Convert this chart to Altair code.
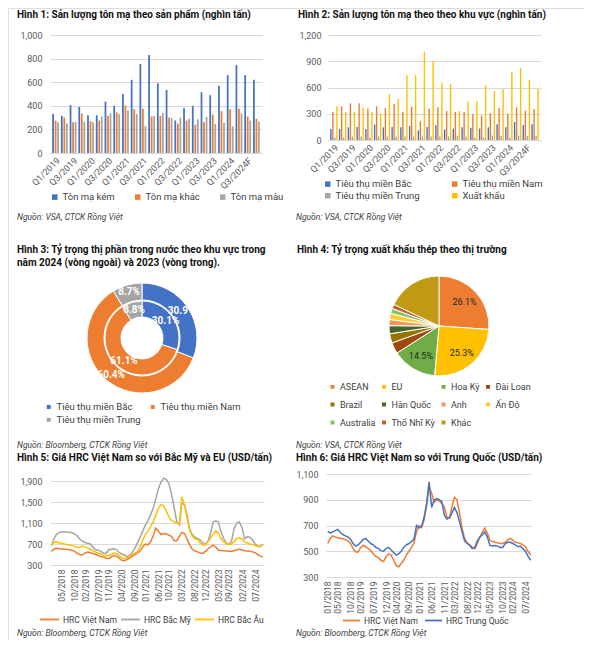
import altair as alt
import pandas as pd

FONT = "Roboto"
TXT = "#404040"
AXC = "#595959"
GRID = "#D9D9D9"
W, H = 576, 632          # single view; page offset is 8px


def P(v):
    """page pixel -> view pixel"""
    return v - 8


# ---------------- data ----------------
quarters = ["Q1/2019", "Q2/2019", "Q3/2019", "Q4/2019",
            "Q1/2020", "Q2/2020", "Q3/2020", "Q4/2020",
            "Q1/2021", "Q2/2021", "Q3/2021", "Q4/2021",
            "Q1/2022", "Q2/2022", "Q3/2022", "Q4/2022",
            "Q1/2023", "Q2/2023", "Q3/2023", "Q4/2023",
            "Q1/2024", "Q2/2024", "Q3/2024F", "Q4/2024F"]
quarter_ticks = quarters[::2]

series1 = ["Tôn mạ kém", "Tôn mạ khác", "Tôn mạ màu"]
colors1 = ["#4472C4", "#ED7D31", "#A5A5A5"]
ton_kem = [330, 315, 405, 390, 320, 320, 435, 400, 500, 620, 755, 830,
           590, 535, 275, 380, 400, 515, 490, 570, 660, 745, 660, 620]
ton_khac = [275, 300, 260, 335, 270, 275, 315, 345, 400, 370, 375, 310,
            315, 300, 250, 275, 240, 260, 325, 355, 370, 375, 310, 290]
ton_mau = [260, 250, 265, 265, 260, 310, 335, 330, 360, 330, 230, 315,
           340, 295, 300, 290, 285, 305, 245, 255, 225, 335, 275, 265]

series2 = ["Tiêu thụ miền Bắc", "Tiêu thụ miền Nam", "Tiêu thụ miền Trung", "Xuất khẩu"]
colors2 = ["#4472C4", "#ED7D31", "#A5A5A5", "#FFC000"]
mien_bac = [125, 125, 145, 150, 125, 175, 145, 150, 145, 160, 110, 150,
            170, 120, 130, 145, 140, 130, 145, 180, 145, 205, 170, 180]
mien_nam = [320, 385, 420, 420, 360, 385, 365, 410, 320, 380, 215, 360,
            375, 330, 320, 320, 300, 280, 305, 365, 300, 375, 335, 355]
mien_trung = [30, 30, 40, 40, 30, 40, 40, 40, 40, 40, 40, 40,
              40, 40, 50, 40, 30, 30, 50, 50, 30, 50, 45, 45]
xuat_khau = [385, 320, 320, 370, 320, 300, 525, 470, 740, 740, 1010, 900,
             655, 640, 330, 440, 445, 625, 560, 580, 780, 820, 685, 585]

regions3 = ["Tiêu thụ miền Bắc", "Tiêu thụ miền Nam", "Tiêu thụ miền Trung"]
colors3 = ["#4472C4", "#ED7D31", "#A5A5A5"]
share_2024 = [30.9, 60.4, 8.7]
share_2023 = [30.1, 61.1, 8.8]

markets4 = ["ASEAN", "EU", "Hoa Kỳ", "Đài Loan", "Brazil", "Hàn Quốc",
            "Anh", "Ấn Độ", "Australia", "Thổ Nhĩ Kỳ", "Khác"]
colors4 = ["#ED7D31", "#FFC000", "#70AD47", "#9E480E", "#997300", "#43682B",
           "#F1975A", "#FFCD33", "#8CC168", "#C5622A", "#C09A12"]
shares4 = [26.1, 25.3, 14.5, 3.6, 3.0, 2.6, 2.0, 2.0, 1.6, 1.4, 17.9]
labels4 = ["26.1%", "25.3%", "14.5%", "", "", "", "", "", "", "", ""]

months = list(pd.date_range("2018-01-01", periods=82, freq="MS").strftime("%Y-%m-%d"))
hrc_vn = [560, 600, 620, 610, 605, 600, 600, 590, 580, 560, 520, 495,
          495, 530, 545, 535, 520, 505, 480, 460, 450, 430, 420, 455,
          480, 470, 430, 390, 380, 405, 430, 470, 500, 530, 565, 650,
          700, 685, 740, 850, 1000, 950, 880, 900, 890, 870, 845, 765,
          760, 850, 920, 900, 800, 680, 600, 565, 550, 530, 520, 560,
          610, 650, 680, 640, 585, 575, 570, 565, 560, 560, 570, 590,
          600, 585, 570, 565, 560, 550, 535, 500, 470, 450]
hrc_us = [660, 800, 880, 920, 935, 935, 930, 925, 915, 890, 850, 790,
          750, 725, 715, 700, 640, 590, 580, 560, 530, 520, 590, 600,
          610, 590, 540, 510, 490, 460, 480, 540, 620, 720, 830, 950,
          1060, 1150, 1250, 1380, 1550, 1750, 1880, 1950, 1930, 1850, 1650, 1400,
          1130, 1060, 1480, 1450, 1250, 980, 880, 830, 800, 780, 720, 690,
          760, 920, 1120, 1140, 1120, 930, 800, 720, 690, 760, 1000, 1100,
          1120, 1000, 800, 840, 830, 780, 700, 660, 650, 690]
hrc_eu = [680, 730, 740, 720, 720, 700, 690, 680, 670, 650, 640, 640,
          660, 640, 620, 600, 570, 545, 530, 510, 480, 470, 480, 500,
          530, 520, 480, 440, 420, 440, 460, 500, 520, 560, 650, 780,
          880, 940, 1020, 1120, 1250, 1380, 1450, 1430, 1330, 1220, 1150, 1120,
          1100, 1080, 1600, 1450, 1200, 950, 850, 800, 780, 720, 680, 680,
          740, 820, 880, 950, 900, 800, 740, 710, 690, 700, 750, 800,
          820, 800, 740, 720, 700, 690, 670, 650, 660, 690]
hrc_cn = [655, 640, 650, 660, 670, 645, 630, 620, 610, 595, 560, 540,
          550, 570, 590, 600, 580, 560, 550, 530, 520, 505, 500, 520,
          530, 510, 490, 470, 480, 500, 530, 550, 560, 575, 595, 700,
          680, 695, 760, 870, 1040, 840, 900, 910, 900, 885, 780, 750,
          760, 800, 840, 800, 730, 650, 580, 560, 545, 520, 530, 580,
          610, 630, 650, 610, 545, 540, 545, 540, 530, 530, 560, 570,
          570, 560, 550, 535, 540, 520, 500, 460, 430]

series5 = ["HRC Việt Nam", "HRC Bắc Mỹ", "HRC Bắc Âu"]
colors5 = ["#ED7D31", "#A5A5A5", "#FFC000"]
series6 = ["HRC Việt Nam", "HRC Trung Quốc"]
colors6 = ["#ED7D31", "#4472C4"]

ticks5 = [(2018, 5), (2018, 10), (2019, 2), (2019, 7), (2019, 11), (2020, 4), (2020, 9),
          (2021, 1), (2021, 6), (2021, 10), (2022, 3), (2022, 8), (2022, 12), (2023, 5),
          (2023, 9), (2024, 2), (2024, 7)]
ticks6 = [(2018, 1), (2018, 5), (2018, 10), (2019, 2), (2019, 7), (2019, 12), (2020, 4),
          (2020, 9), (2021, 1), (2021, 6), (2021, 11), (2022, 3), (2022, 8), (2022, 12),
          (2023, 5), (2023, 10), (2024, 2), (2024, 7)]

titles = [
    "Hình 1: Sản lượng tôn mạ theo sản phẩm (nghìn tấn)",
    "Hình 2: Sản lượng tôn mạ theo theo khu vực (nghìn tấn)",
    "Hình 3: Tỷ trọng thị phần trong nước theo khu vực trong",
    "năm 2024 (vòng ngoài) và 2023 (vòng trong).",
    "Hình 4: Tỷ trọng xuất khẩu thép theo thị trường",
    "Hình 5: Giá HRC Việt Nam so với Bắc Mỹ và EU (USD/tấn)",
    "Hình 6: Giá HRC Việt Nam so với Trung Quốc (USD/tấn)",
]
sources = ["Nguồn: VSA, CTCK Rồng Việt", "Nguồn: VSA, CTCK Rồng Việt",
           "Nguồn: Bloomberg, CTCK Rồng Việt", "Nguồn: VSA, CTCK Rồng Việt",
           "Nguồn: Bloomberg, CTCK Rồng Việt", "Nguồn: Bloomberg, CTCK Rồng Việt"]


# ---------------- helpers ----------------
def DT(y, m, d=1):
    return alt.DateTime(year=y, month=m, date=d, utc=True)


def text_at(text, x, y, bold=False, italic=False, size=8.5, color=TXT):
    kw = dict(align="left", baseline="middle", font=FONT, fontSize=size, color=color)
    if bold:
        kw["fontWeight"] = "bold"
    if italic:
        kw["fontStyle"] = "italic"
    return alt.Chart(pd.DataFrame({"t": [text]})).mark_text(**kw).encode(
        text="t:N", x=alt.value(P(x)), y=alt.value(P(y)))


def title(text, x, y):
    return text_at(text, x, y, bold=True, size=10, color="#111111")


def note(text, x, y):
    return text_at(text, x, y, italic=True, size=8.5)


def legend(x, y, columns=None, sym="square", size=30, **kw):
    args = dict(title=None, orient="none", legendX=P(x), legendY=P(y), labelFont=FONT,
                labelFontSize=9.5, labelColor=TXT, symbolType=sym, symbolSize=size,
                labelOffset=3, direction="horizontal", padding=0)
    if columns:
        args["columns"] = columns
    args.update(kw)
    return alt.Legend(**args)


def yaxis(values, left, pad):
    return alt.Axis(orient="left", offset=-P(left), values=values, format=",.0f",
                    title=None, grid=True, gridColor=GRID, domain=False, ticks=False,
                    labelPadding=pad, labelFont=FONT, labelFontSize=9, labelColor=AXC)


def xband_axis(bottom):
    return alt.Axis(orient="bottom", offset=P(bottom) - H, values=quarter_ticks,
                    labelAngle=-45, title=None, ticks=False, grid=False,
                    domainColor=GRID, labelFont=FONT, labelFontSize=9,
                    labelColor=AXC, labelPadding=3)


def xtime_axis(ticks, bottom):
    return alt.Axis(orient="bottom", offset=P(bottom) - H,
                    values=[DT(y, m) for y, m in ticks], format="%m/%Y",
                    labelAngle=-90, title=None, grid=False, ticks=False,
                    domainColor=GRID, labelFont=FONT, labelFontSize=8.5,
                    labelColor=AXC, labelPadding=4)


layers = []

# ---------------- panel 1: plot x 50-262, y 35-153 ----------------
df1 = pd.DataFrame({
    "q": quarters * 3,
    "s": sum([[s] * len(quarters) for s in series1], []),
    "v": ton_kem + ton_khac + ton_mau,
})
layers.append(alt.Chart(df1).mark_bar().encode(
    x=alt.X("q:N", sort=quarters,
            scale=alt.Scale(range=[P(50), P(262)], paddingInner=0.22, paddingOuter=0.25),
            axis=xband_axis(153)),
    xOffset=alt.XOffset("s:N", sort=series1, scale=alt.Scale(paddingInner=0.3)),
    y=alt.Y("v:Q", scale=alt.Scale(domain=[0, 1000], range=[P(153), P(35)], nice=False),
            axis=yaxis([0, 200, 400, 600, 800, 1000], 50, 8)),
    color=alt.Color("s:N", sort=series1, scale=alt.Scale(domain=series1, range=colors1),
                    legend=legend(50, 192, columnPadding=18)),
))
layers += [title(titles[0], 17, 15), note(sources[0], 17, 217)]

# ---------------- panel 2: plot x 328-541, y 35-140 ----------------
df2 = pd.DataFrame({
    "q": quarters * 4,
    "s": sum([[s] * len(quarters) for s in series2], []),
    "v": mien_bac + mien_nam + mien_trung + xuat_khau,
})
layers.append(alt.Chart(df2).mark_bar().encode(
    x=alt.X("q:N", sort=quarters,
            scale=alt.Scale(range=[P(328), P(541)], paddingInner=0.15, paddingOuter=0.25),
            axis=xband_axis(140)),
    xOffset=alt.XOffset("s:N", sort=series2, scale=alt.Scale(paddingInner=0.3)),
    y=alt.Y("v:Q", scale=alt.Scale(domain=[0, 1200], range=[P(140), P(35)], nice=False),
            axis=yaxis([0, 300, 600, 900, 1200], 328, 7)),
    color=alt.Color("s:N", sort=series2, scale=alt.Scale(domain=series2, range=colors2),
                    legend=legend(323, 179, columns=2, columnPadding=30, rowPadding=1)),
))
layers += [title(titles[1], 298, 15), note(sources[1], 296, 217)]

# ---------------- panel 3: donut centred at page (142, 338) ----------------
CX3, CY3 = P(142), P(338)
df3o = pd.DataFrame({"r": regions3, "v": share_2024, "i": [0, 1, 2],
                     "lab": [f"{v:.1f}%" for v in share_2024]})
df3i = pd.DataFrame({"r": regions3, "v": share_2023, "i": [0, 1, 2],
                     "lab": [f"{v:.1f}%" for v in share_2023]})
layers.append(alt.Chart(df3o).mark_arc(innerRadius=38, outerRadius=55, stroke="white",
                                       strokeWidth=1).encode(
    x=alt.value(CX3), y=alt.value(CY3),
    theta=alt.Theta("v:Q", stack=True), order=alt.Order("i:Q"),
    color=alt.Color("r:N", sort=regions3, scale=alt.Scale(domain=regions3, range=colors3),
                    legend=legend(44, 402, columns=2, columnPadding=6, rowPadding=1))))
layers.append(alt.Chart(df3i).mark_arc(innerRadius=21, outerRadius=37, stroke="white",
                                       strokeWidth=1).encode(
    x=alt.value(CX3), y=alt.value(CY3),
    theta=alt.Theta("v:Q", stack=True), order=alt.Order("i:Q"),
    color=alt.Color("r:N", sort=regions3, scale=alt.Scale(domain=regions3, range=colors3),
                    legend=None)))
for d, rad in ((df3o, 48), (df3i, 29)):
    layers.append(alt.Chart(d).mark_text(radius=rad, font=FONT, fontSize=10,
                                         fontWeight="bold", color="white").encode(
        x=alt.value(CX3), y=alt.value(CY3),
        theta=alt.Theta("v:Q", stack=True), order=alt.Order("i:Q"), text="lab:N"))
layers += [title(titles[2], 17, 250), title(titles[3], 17, 263), note(sources[2], 17, 445)]

# ---------------- panel 4: pie centred at page (439, 326) ----------------
CX4, CY4 = P(439), P(326)
df4 = pd.DataFrame({"m": markets4, "v": shares4, "i": list(range(len(markets4))),
                    "lab": labels4})
layers.append(alt.Chart(df4).mark_arc(outerRadius=50, stroke="white", strokeWidth=1).encode(
    x=alt.value(CX4), y=alt.value(CY4),
    theta=alt.Theta("v:Q", stack=True), order=alt.Order("i:Q"),
    color=alt.Color("m:N", sort=markets4, scale=alt.Scale(domain=markets4, range=colors4),
                    legend=legend(328, 382, columns=4, columnPadding=1.5, rowPadding=5,
                                  gridAlign="each", labelFontSize=9))))
layers.append(alt.Chart(df4).mark_text(radius=35, font=FONT, fontSize=9,
                                       color="#262626").encode(
    x=alt.value(CX4), y=alt.value(CY4),
    theta=alt.Theta("v:Q", stack=True), order=alt.Order("i:Q"), text="lab:N"))
layers += [title(titles[4], 297, 250), note(sources[3], 296, 445)]

# ---------------- panel 5: plot x 50-264, y 481-565 ----------------
df5 = pd.DataFrame({
    "d": months * 3,
    "s": sum([[s] * len(months) for s in series5], []),
    "v": hrc_vn + hrc_us + hrc_eu,
})
layers.append(alt.Chart(df5).mark_line(strokeWidth=1.5).encode(
    x=alt.X("d:T", scale=alt.Scale(type="utc", domain=[DT(2017, 12, 17), DT(2024, 10, 13)],
                                   range=[P(50), P(264)]),
            axis=xtime_axis(ticks5, 565)),
    y=alt.Y("v:Q", scale=alt.Scale(domain=[300, 1900], range=[P(565), P(481)], nice=False),
            axis=yaxis([300, 700, 1100, 1500, 1900], 50, 8)),
    color=alt.Color("s:N", sort=series5, scale=alt.Scale(domain=series5, range=colors5),
                    legend=legend(39, 609, sym="stroke", size=361, symbolStrokeWidth=1.8,
                                  columnPadding=0, labelFontSize=8.5)),
))
layers += [title(titles[5], 17, 458), note(sources[4], 17, 633)]

# ---------------- panel 6: plot x 326-531, y 474-577 ----------------
df6 = pd.DataFrame({
    "d": months[:81] * 2,
    "s": sum([[s] * 81 for s in series6], []),
    "v": hrc_vn[:81] + hrc_cn,
})
layers.append(alt.Chart(df6).mark_line(strokeWidth=1.5).encode(
    x=alt.X("d:T", scale=alt.Scale(type="utc", domain=[DT(2017, 12, 11), DT(2024, 9, 5)],
                                   range=[P(326), P(531)]),
            axis=xtime_axis(ticks6, 577)),
    y=alt.Y("v:Q", scale=alt.Scale(domain=[300, 1100], range=[P(577), P(474)], nice=False),
            axis=yaxis([300, 500, 700, 900, 1100], 326, 8)),
    color=alt.Color("s:N", sort=series6, scale=alt.Scale(domain=series6, range=colors6),
                    legend=legend(342, 611, sym="stroke", size=289, symbolStrokeWidth=1.8,
                                  columnPadding=3, labelFontSize=8.5)),
))
layers += [title(titles[6], 296, 458), note(sources[5], 296, 633)]

chart = alt.layer(*layers).resolve_scale(
    x="independent", y="independent", color="independent",
    theta="independent", xOffset="independent",
).resolve_axis(x="independent", y="independent").resolve_legend(
    color="independent"
).properties(
    width=W, height=H, autosize=alt.AutoSizeParams(type="none"), padding=0,
).configure_view(strokeWidth=0).configure(background="white")

chart.save("out.html", embed_options={"renderer": "svg", "actions": False})
